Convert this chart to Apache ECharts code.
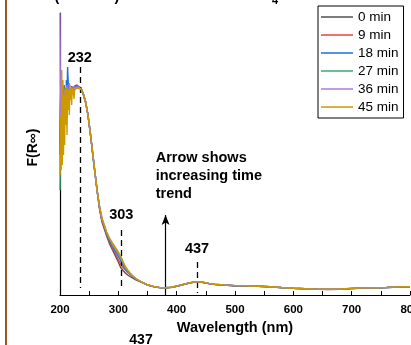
<!DOCTYPE html>
<html><head><meta charset="utf-8">
<script src="https://cdn.jsdelivr.net/npm/echarts@6/dist/echarts.min.js"></script>
<style>html,body{margin:0;padding:0;background:#fff}#c{width:411px;height:345px}</style>
</head><body><div id="c"></div>
<script>
// ---------- data ----------
const wavelengths = [
  200,201,202,203,204,205,206,207,208,209,210,211,212,213,214,215,216,217,218,219,220,221,222,223,224,225,226,227,228,229,230,
  232,236,240,244,248,252,256,260,264,268,272,276,280,285,290,295,300,304,308,312,316,320,325,330,335,340,
  345,350,360,370,380,390,400,410,420,430,437,445,455,465,480,500,520,540,560,580,600,620,640,660,680,700,720,740,760,780,800
];
const seriesNames = ['0 min','9 min','18 min','27 min','36 min','45 min'];
const seriesColors = ['#515151','#F14040','#1A6FDF','#37AD6B','#B177DE','#CC9900'];

const min0 = [
  140,195,170,212,180,200,185,210,190,205,195,207,198,205,200,208,202,206,203,207,204,208,205,207,206,208,207,209,208,209,209,
  210,206,200,192,179,161,141,121,102,85,73,66,59,51,45,39,33,27.5,24.5,22,20,18.5,16.8,15.2,13.8,12.6,
  11.4,10,8.4,7.4,7.1,7.5,8.7,10.2,11.7,12.9,13.2,12.5,11.4,10.5,9.9,9.2,8.9,8.6,8.1,7.3,6.6,6.1,5.7,5.5,5.8,6.4,6.9,7.1,7.4,7.9,8.2
];
const min9 = [
  140,190,165,205,175,200,180,208,188,203,193,207,197,205,200,207,201,206,203,207,204,208,205,207,206,209,207,209,208,210,210,
  211,207,201,193,180,162,142,122,103,86,74,67,60,52.5,46.5,41,35.5,31,27.5,25,22.5,20.5,18,15.9,14.2,12.8,
  11.5,10,8.5,7.5,7.2,7.6,8.8,10.3,11.8,13,13.3,12.6,11.5,10.6,10,9.3,9,8.7,8.2,7.4,6.7,6.2,5.8,5.6,5.9,6.5,7,7.2,7.5,8,8.3
];
const min18 = [
  150,200,140,210,160,195,175,205,185,200,190,215,195,228,227,200,210,200,206,202,209,204,207,205,208,206,208,207,209,208,209,
  209,207,201,193,180,162,142,122,103,87,75,68,61,54,48.5,43.5,38.5,34.5,30,26.5,23.5,21.2,18.4,16.1,14.3,12.9,
  11.5,10.1,8.5,7.5,7.2,7.6,8.8,10.3,11.8,13,13.3,12.6,11.5,10.6,10,9.3,9,8.7,8.2,7.4,6.7,6.2,5.8,5.6,5.9,6.5,7,7.2,7.5,8,8.3
];
const min27 = [
  105,160,190,170,205,180,200,190,207,195,203,198,206,200,204,201,206,202,205,203,207,204,206,205,207,206,207,206,208,207,208,
  209,206,201,193,180,162,142,122,103,87,76,69,62,55.5,50,45.5,40.5,36.5,31.5,27.5,24.2,21.6,18.7,16.3,14.4,13,
  11.5,10.1,8.6,7.6,7.3,7.7,8.9,10.4,11.9,13.1,13.4,12.7,11.6,10.7,10.1,9.4,9.1,8.8,8.3,7.5,6.8,6.3,5.9,5.7,6,6.6,7.1,7.3,7.6,8.1,8.4
];
const min36 = [
  282,130,190,150,210,170,200,185,205,175,200,190,210,195,205,200,212,198,206,200,208,203,207,204,209,205,207,206,208,207,207,
  208,206,201,193,180,162,142,122,103,88,76,69.5,62.5,56,51,46.5,42,38,32.5,28,24.5,21.8,18.8,16.4,14.5,13,
  11.6,10.2,8.6,7.6,7.3,7.7,8.9,10.4,11.9,13.1,13.4,12.7,11.6,10.7,10.1,9.4,9.1,8.8,8.3,7.5,6.8,6.3,5.9,5.7,6,6.6,7.1,7.3,7.6,8.1,8.4
];
const min45 = [
  120,180,125,225,130,215,140,200,150,205,170,208,160,200,185,205,180,210,195,205,190,207,200,204,196,205,203,206,205,207,207,
  208,206,201,193,180,162,142,122,103,88,77,70,63,57,52,47.5,43,39,33.5,28.5,25,22,19,16.5,14.5,13,
  11.6,10.2,8.6,7.6,7.3,7.7,8.9,10.4,11.9,13.1,13.4,12.7,11.6,10.7,10.1,9.4,9.1,8.8,8.3,7.5,6.8,6.3,5.9,5.7,6,6.6,7.1,7.3,7.6,8.1,8.4
];
const allSeries = [min0, min9, min18, min27, min36, min45];

// x tick labels (major every 100 nm)
const xMin = 200, xMax = 800, xStep = 100;
const yMin = 0, yMax = 282;

// peak annotations
const peakLabels = ['232', '303', '437'];
const peakX = [234, 305, 435];
const peakLineTop = [228, 65, 33];
const peakLineBottom = [7, 5, 2];
const peakLabelY = [237, 80, 46];
// time-trend arrow
const arrowX = 381;
const arrowFrom = 0;
const arrowTo = 80;
const arrowText = ['Arrow shows', 'increasing time', 'trend'];
const arrowTextX = 364;
const arrowTextY = [137.5, 119, 101];

// ---------- chart ----------
const FONT = 'Liberation Sans, Arial, sans-serif';
const chart = echarts.init(document.getElementById('c'), null, {renderer: 'canvas'});

const series = allSeries.map((vals, k) => ({
  name: seriesNames[k],
  type: 'line',
  data: wavelengths.map((w, i) => [w, vals[i]]),
  symbol: 'none',
  smooth: false,
  lineStyle: {color: seriesColors[k], width: 1.4},
  itemStyle: {color: seriesColors[k]},
  z: 2 + k,
  silent: true
}));

// annotation dashed lines and arrow (data coordinates)
series.push({
  type: 'line', data: [], symbol: 'none', silent: true, z: 10,
  markLine: {
    silent: true, symbol: 'none', animation: false,
    label: {show: false},
    lineStyle: {color: '#000', type: [6, 4], width: 1.3},
    emphasis: {disabled: true},
    data: peakX.map((x, i) => [{coord: [x, peakLineTop[i]]}, {coord: [x, peakLineBottom[i]]}])
  }
});
series.push({
  type: 'line', data: [], symbol: 'none', silent: true, z: 10,
  markLine: {
    silent: true, symbol: ['none', 'arrow'], symbolSize: [6, 10], animation: false,
    label: {show: false},
    lineStyle: {color: '#000', type: 'solid', width: 1.2},
    emphasis: {disabled: true},
    data: [[{coord: [arrowX, arrowFrom]}, {coord: [arrowX, arrowTo]}]]
  }
});

chart.setOption({
  animation: false,
  backgroundColor: '#fff',
  grid: {left: 60, right: 1, top: 13, bottom: 50, containLabel: false, outerBoundsMode: 'none'},
  legend: {
    data: seriesNames.map((n, k) => ({name: n, icon: 'rect', itemStyle: {color: seriesColors[k]}})),
    orient: 'vertical', left: 318, top: 6,
    padding: [4, 5, 4, 3], itemGap: 4, itemWidth: 32, itemHeight: 1.5,
    borderColor: '#000', borderWidth: 1, borderRadius: 0,
    textStyle: {fontSize: 13.5, color: '#000', fontFamily: FONT, lineHeight: 14, height: 14},
    selectedMode: false
  },
  xAxis: {
    type: 'value', min: xMin, max: xMax, interval: xStep,
    name: 'Wavelength (nm)', nameLocation: 'middle', nameGap: 19,
    nameTextStyle: {fontSize: 14.5, fontWeight: 'bold', color: '#000', fontFamily: FONT},
    axisLine: {show: true, lineStyle: {color: '#000', width: 1.2}},
    axisTick: {show: true, inside: true, length: 4, lineStyle: {color: '#000', width: 1}},
    minorTick: {show: true, splitNumber: 2, length: 4, lineStyle: {color: '#000', width: 1}},
    axisLabel: {fontSize: 11.5, fontWeight: 'bold', color: '#000', fontFamily: FONT, margin: 9, hideOverlap: false, showMaxLabel: true},
    splitLine: {show: false}
  },
  yAxis: {
    type: 'value', min: yMin, max: yMax,
    axisLine: {show: true, lineStyle: {color: '#000', width: 1.2}},
    axisTick: {show: false}, axisLabel: {show: false}, splitLine: {show: false}
  },
  series: series
});

// text annotations placed through the chart's own scales
const gfx = [];
gfx.push({type: 'rect', shape: {x: 5, y: 0, width: 2, height: 345}, style: {fill: '#9C5426'}, silent: true});
gfx.push({type: 'text', x: 33, y: 147.5, rotation: Math.PI / 2,
  style: {text: 'F(R\u221E)', font: 'bold 14px ' + FONT, fill: '#000', align: 'center', verticalAlign: 'middle'}});
// partial title remnants at the very top
gfx.push({type: 'text', x: 57, y: 4, style: {text: '(', font: 'bold 14.5px ' + FONT, fill: '#000', align: 'center', verticalAlign: 'bottom'}});
gfx.push({type: 'text', x: 117, y: 4, style: {text: ')', font: 'bold 14.5px ' + FONT, fill: '#000', align: 'center', verticalAlign: 'bottom'}});
gfx.push({type: 'text', x: 275, y: 6, style: {text: '4', font: 'bold 11px ' + FONT, fill: '#000', align: 'center', verticalAlign: 'bottom'}});
// stray label below axis
gfx.push({type: 'text', x: 141, y: 340.5, style: {text: '437', font: 'bold 14px ' + FONT, fill: '#000', align: 'center', verticalAlign: 'middle'}});

peakLabels.forEach((t, i) => {
  const p = chart.convertToPixel({gridIndex: 0}, [peakX[i], peakLabelY[i]]);
  gfx.push({type: 'text', x: p[0], y: p[1], style: {text: t, font: 'bold 14.5px ' + FONT, fill: '#000', align: 'center', verticalAlign: 'middle'}});
});
arrowText.forEach((t, i) => {
  const p = chart.convertToPixel({gridIndex: 0}, [arrowTextX, arrowTextY[i]]);
  gfx.push({type: 'text', x: p[0], y: p[1], style: {text: t, font: 'bold 14.5px ' + FONT, fill: '#000', align: 'left', verticalAlign: 'middle'}});
});
chart.setOption({graphic: gfx});
</script>
</body></html>
